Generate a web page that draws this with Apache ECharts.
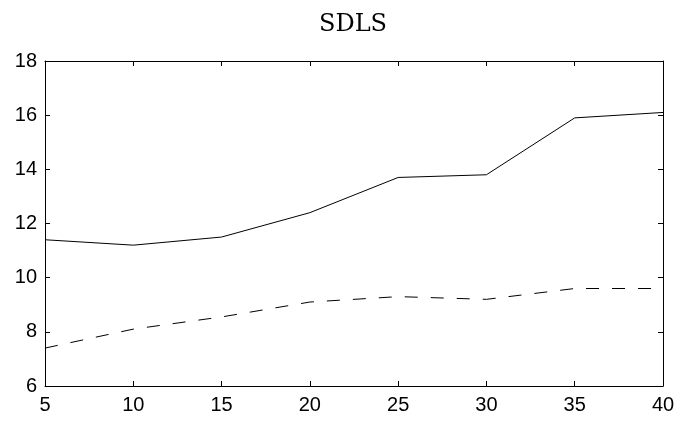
<!DOCTYPE html>
<html>
<head>
<meta charset="utf-8">
<script src="https://cdn.jsdelivr.net/npm/echarts@6/dist/echarts.min.js"></script>
<style>
  html, body { margin: 0; padding: 0; background: #fff; }
  #chart { width: 678px; height: 421px; }
</style>
</head>
<body>
<div id="chart"></div>
<script>
// data
const xValues = [5, 10, 15, 20, 25, 30, 35, 40];
const solidValues = [11.4, 11.2, 11.5, 12.4, 13.7, 13.8, 15.9, 16.1];
const dashedValues = [7.4, 8.1, 8.55, 9.1, 9.3, 9.2, 9.6, 9.6];

const pairs = (ys) => xValues.map((x, i) => [x, ys[i]]);

const chart = echarts.init(document.getElementById('chart'));

const labelFont = { color: '#000', fontFamily: 'Liberation Sans, Arial, sans-serif', fontSize: 20 };
const lineStyle = { color: '#000', width: 1 };
const tick = { show: true, inside: true, length: 5, lineStyle: lineStyle };

chart.setOption({
  animation: false,
  title: {
    text: 'SDLS',
    left: 348,
    textAlign: 'center',
    top: 8,
    textStyle: { fontFamily: 'DejaVu Serif, Liberation Serif, serif', fontWeight: 'normal', fontSize: 24, color: '#000' }
  },
  grid: { left: 45, right: 15, top: 61, bottom: 35 },
  xAxis: [
    {
      type: 'value', min: 5, max: 40, interval: 5,
      axisLine: { lineStyle: lineStyle },
      axisTick: tick,
      axisLabel: Object.assign({ margin: 9 }, labelFont),
      splitLine: { show: false }
    },
    {
      type: 'value', position: 'top', min: 5, max: 40, interval: 5,
      axisLine: { lineStyle: lineStyle },
      axisTick: tick,
      axisLabel: { show: false },
      splitLine: { show: false }
    }
  ],
  yAxis: [
    {
      type: 'value', min: 6, max: 18, interval: 2,
      axisLine: { show: true, lineStyle: lineStyle },
      axisTick: tick,
      axisLabel: Object.assign({ margin: 8 }, labelFont),
      splitLine: { show: false }
    },
    {
      type: 'value', position: 'right', min: 6, max: 18, interval: 2,
      axisLine: { show: true, lineStyle: lineStyle },
      axisTick: tick,
      axisLabel: { show: false },
      splitLine: { show: false }
    }
  ],
  series: [
    {
      type: 'line', data: pairs(solidValues), showSymbol: false,
      lineStyle: { color: '#000', width: 1 }
    },
    {
      type: 'line', data: pairs(dashedValues), showSymbol: false,
      lineStyle: { color: '#000', width: 1, type: [13, 13] }
    }
  ]
});
</script>
</body>
</html>
